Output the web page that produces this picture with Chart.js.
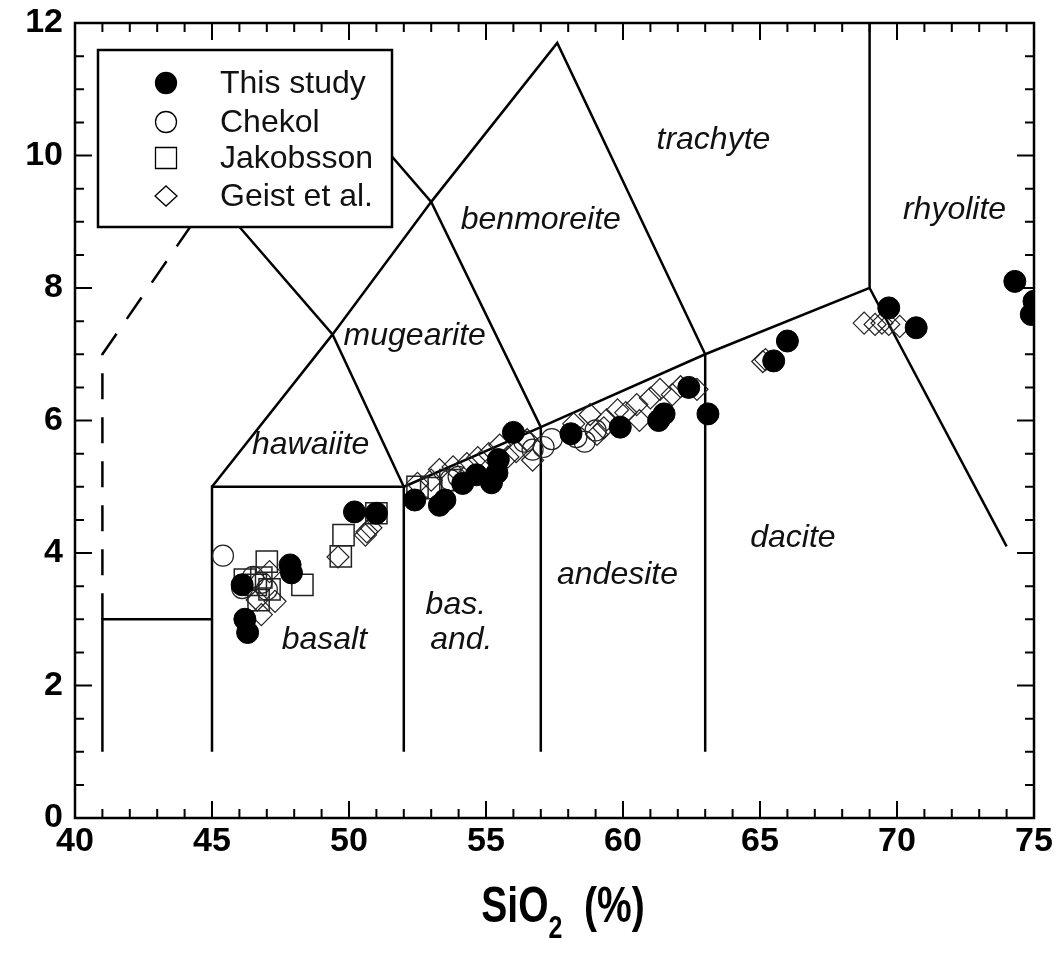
<!DOCTYPE html>
<html>
<head>
<meta charset="utf-8">
<title>TAS diagram</title>
<script src="https://cdn.jsdelivr.net/npm/chart.js@4.4.1/dist/chart.umd.min.js"></script>
<style>
  html, body { margin: 0; padding: 0; background: #fff; }
</style>
</head>
<body>
<canvas id="tasChart" width="1062" height="953"></canvas>
<script>
// tick labels
const xTicks = [40, 45, 50, 55, 60, 65, 70, 75];
const yTicks = [0, 2, 4, 6, 8, 10, 12];

// samples, [SiO2, Na2O+K2O]
const thisStudy = [[46.1, 3.52], [46.2, 3.0], [46.3, 2.8], [47.85, 3.82], [47.9, 3.7], [50.2, 4.62], [51.0, 4.6],
  [52.4, 4.8], [53.3, 4.72], [53.5, 4.8], [54.15, 5.05], [54.65, 5.18], [55.2, 5.06], [55.4, 5.21], [55.45, 5.41],
  [56.0, 5.82], [58.1, 5.8], [59.9, 5.9], [61.3, 6.0], [61.5, 6.1], [62.4, 6.5], [63.1, 6.1], [65.5, 6.9],
  [66.0, 7.2], [69.7, 7.7], [70.7, 7.4], [74.3, 8.1], [75.0, 7.8], [74.9, 7.6]];
const chekol = [[45.4, 3.96], [46.1, 3.47], [46.5, 3.64], [46.8, 3.55], [47.0, 3.45], [53.7, 5.1], [54.0, 5.15],
  [56.4, 5.68], [56.7, 5.56], [57.1, 5.6], [57.4, 5.72], [58.3, 5.75], [58.6, 5.68], [59.0, 5.85]];
const jakobsson = [[46.2, 3.6], [46.6, 3.52], [46.8, 3.63], [47.1, 3.45], [46.7, 3.29], [47.0, 3.87], [48.3, 3.52],
  [49.7, 3.95], [49.8, 4.27], [51.0, 4.6], [52.5, 5.0], [53.0, 4.98], [53.7, 5.1]];
const geist = [[46.65, 3.29], [46.8, 3.07], [47.1, 3.72], [47.3, 3.27], [49.6, 3.94], [50.6, 4.27], [50.65, 4.32],
  [50.8, 4.38], [52.5, 5.05], [53.0, 5.1], [53.3, 5.26], [53.8, 5.3], [54.3, 5.35], [54.7, 5.44], [55.1, 5.5],
  [55.5, 5.63], [55.8, 5.45], [56.1, 5.53], [56.5, 5.71], [56.7, 5.4], [58.2, 5.95], [58.8, 6.09], [59.05, 5.79],
  [59.3, 5.89], [59.4, 6.01], [59.8, 6.16], [60.1, 6.12], [60.5, 6.24], [60.6, 6.0], [61.0, 6.34], [61.35, 6.47],
  [61.8, 6.39], [62.1, 6.51], [62.7, 6.47], [65.1, 6.89], [65.2, 6.92], [68.8, 7.47], [69.2, 7.45], [69.45, 7.47],
  [69.7, 7.45], [70.1, 7.42]];

// field boundaries (TAS)
const fieldLines = [
  [[41, 1], [41, 3], [45, 3]],
  [[45, 1], [45, 5], [52, 5], [52, 1]],
  [[52, 5], [57, 5.9], [63, 7], [69, 8], [69, 12]],
  [[57, 1], [57, 5.9]],
  [[63, 1], [63, 7]],
  [[69, 8], [74, 4.1]],
  [[45, 5], [49.4, 7.3], [53, 9.3], [57.6, 11.7], [63, 7]],
  [[52, 5], [49.4, 7.3], [45, 9.4], [48.4, 11.5], [53, 9.3], [57, 5.9]]
];
const dashedLines = [
  [[41, 3], [41, 7], [45, 9.4]]
];

// field names and where they sit
const fieldNames = ['hawaiite', 'mugearite', 'benmoreite', 'trachyte', 'rhyolite', 'basalt', 'bas.', 'and.', 'andesite', 'dacite'];
const fieldNameX = [48.6, 52.4, 57.0, 63.3, 72.1, 49.1, 53.9, 54.1, 59.8, 66.2];
const fieldNameY = [5.63, 7.27, 9.03, 10.24, 9.18, 2.69, 3.22, 2.69, 3.67, 4.23];

const FONT = '"Liberation Sans", Arial, sans-serif';
const toXY = pts => pts.map(p => ({ x: p[0], y: p[1] }));

const datasets = [
  { label: 'This study', data: toXY(thisStudy), pointStyle: 'circle', pointRadius: 11,
    pointBackgroundColor: '#000', pointBorderColor: '#000', pointBorderWidth: 1, order: 1 },
  { label: 'Chekol', data: toXY(chekol), pointStyle: 'circle', pointRadius: 10.5,
    pointBackgroundColor: 'rgba(0,0,0,0)', pointBorderColor: '#222', pointBorderWidth: 1.2, order: 2 },
  { label: 'Jakobsson', data: toXY(jakobsson), pointStyle: 'rect', pointRadius: 15,
    pointBackgroundColor: 'rgba(0,0,0,0)', pointBorderColor: '#222', pointBorderWidth: 1.5, order: 3 },
  { label: 'Geist et al.', data: toXY(geist), pointStyle: 'rectRot', pointRadius: 11,
    pointBackgroundColor: 'rgba(0,0,0,0)', pointBorderColor: '#222', pointBorderWidth: 1.2, order: 4 }
];
fieldLines.forEach(l => datasets.push({ data: toXY(l), showLine: true, pointRadius: 0, borderColor: '#000',
  borderWidth: 2.5, fill: false, order: 10 }));
dashedLines.forEach(l => datasets.push({ data: toXY(l), showLine: true, pointRadius: 0, borderColor: '#000',
  borderWidth: 2.5, borderDash: [26, 18], fill: false, order: 10 }));

/* frame, inward ticks, field names, legend box and axis title */
const decor = {
  id: 'decor',
  beforeDatasetsDraw(chart) {
    const { ctx, scales: { x, y } } = chart;
    ctx.save();
    ctx.fillStyle = '#111';
    ctx.font = 'italic 32px ' + FONT;
    ctx.textAlign = 'center';
    ctx.textBaseline = 'middle';
    fieldNames.forEach((t, i) => ctx.fillText(t, x.getPixelForValue(fieldNameX[i]), y.getPixelForValue(fieldNameY[i])));
    ctx.restore();
  },
  afterDatasetsDraw(chart) {
    const { ctx, chartArea: a, scales: { x, y } } = chart;
    ctx.save();
    ctx.strokeStyle = '#000';
    ctx.lineWidth = 2;
    ctx.beginPath();
    for (let v = 41; v < 75; v++) {
      const len = v % 5 === 0 ? 17 : 9;
      const px = x.getPixelForValue(v);
      ctx.moveTo(px, a.bottom); ctx.lineTo(px, a.bottom - len);
      ctx.moveTo(px, a.top); ctx.lineTo(px, a.top + len);
    }
    for (let v = 0.5; v < 12; v += 0.5) {
      const len = v % 2 === 0 ? 17 : 9;
      const py = y.getPixelForValue(v);
      ctx.moveTo(a.left, py); ctx.lineTo(a.left + len, py);
      ctx.moveTo(a.right, py); ctx.lineTo(a.right - len, py);
    }
    ctx.stroke();
    ctx.lineWidth = 2.5;
    ctx.strokeRect(a.left, a.top, a.width, a.height);

    // legend
    const bx = 98, by = 50, bw = 294, bh = 177;
    ctx.fillStyle = '#fff';
    ctx.fillRect(bx, by, bw, bh);
    ctx.lineWidth = 2.5;
    ctx.strokeRect(bx, by, bw, bh);
    const rows = [83, 122, 158, 196];
    const mx = 166;
    ctx.font = '32px ' + FONT;
    ctx.textAlign = 'left';
    ctx.textBaseline = 'middle';
    datasets.slice(0, 4).forEach((d, i) => {
      const my = rows[i];
      ctx.beginPath();
      ctx.lineWidth = 1.3;
      ctx.strokeStyle = '#000';
      if (d.pointStyle === 'circle') {
        ctx.arc(mx, my, 10.5, 0, Math.PI * 2);
      } else if (d.pointStyle === 'rect') {
        ctx.rect(mx - 10.5, my - 10.5, 21, 21);
      } else {
        ctx.moveTo(mx, my - 10); ctx.lineTo(mx + 11, my); ctx.lineTo(mx, my + 10); ctx.lineTo(mx - 11, my); ctx.closePath();
      }
      if (i === 0) { ctx.fillStyle = '#000'; ctx.fill(); }
      ctx.stroke();
      ctx.fillStyle = '#111';
      ctx.fillText(d.label, 220, my + 1);
    });

    // axis title with subscript, squeezed like the original's narrow bold face
    ctx.fillStyle = '#000';
    ctx.textBaseline = 'alphabetic';
    const big = 'bold 50px ' + FONT, small = 'bold 32px ' + FONT;
    ctx.font = big; const w1 = ctx.measureText('SiO').width, w3 = ctx.measureText('  (%)').width;
    ctx.font = small; const w2 = ctx.measureText('2').width;
    const sx = 0.78;
    ctx.translate(563, 0);
    ctx.scale(sx, 1);
    let tx = -(w1 + w2 + w3) / 2;
    const base = 922;
    ctx.font = big; ctx.fillText('SiO', tx, base); tx += w1;
    ctx.font = small; ctx.fillText('2', tx, base + 16); tx += w2;
    ctx.font = big; ctx.fillText('  (%)', tx, base);
    ctx.restore();
  }
};

new Chart(document.getElementById('tasChart'), {
  type: 'scatter',
  data: { datasets },
  options: {
    responsive: false,
    animation: false,
    layout: { padding: { top: 23, right: 28, left: 0, bottom: 0 } },
    plugins: { legend: { display: false }, tooltip: { enabled: false } },
    scales: {
      x: {
        type: 'linear', min: 40, max: 75,
        afterBuildTicks: s => { s.ticks = xTicks.map(v => ({ value: v })); },
        afterFit: s => { s.height = 953 - 818; s.paddingLeft = 0; s.paddingRight = 0; },
        grid: { display: false, drawTicks: false },
        border: { display: false },
        ticks: { color: '#000', padding: 3, font: { family: FONT, size: 34, weight: 'bold' } }
      },
      y: {
        type: 'linear', min: 0, max: 12,
        afterBuildTicks: s => { s.ticks = yTicks.map(v => ({ value: v })); },
        afterFit: s => { s.width = 75; s.paddingTop = 0; s.paddingBottom = 0; },
        grid: { display: false, drawTicks: false },
        border: { display: false },
        ticks: { color: '#000', padding: 12, font: { family: FONT, size: 34, weight: 'bold' } }
      }
    }
  },
  plugins: [decor]
});
</script>
</body>
</html>
